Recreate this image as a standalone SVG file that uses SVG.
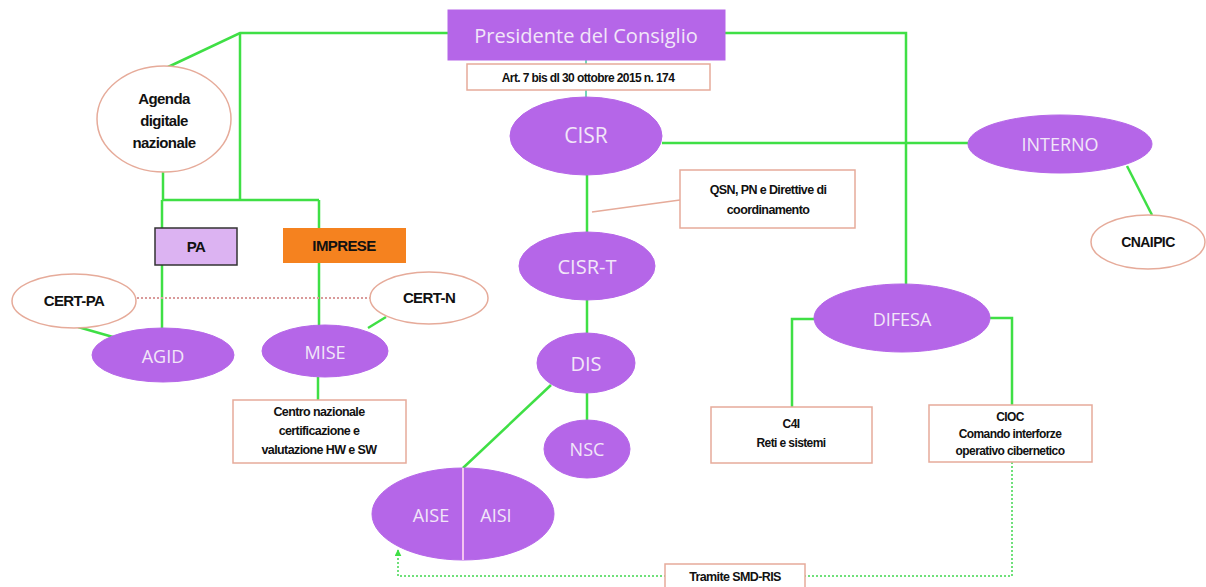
<svg xmlns="http://www.w3.org/2000/svg" width="1206" height="587" viewBox="0 0 1206 587">
<defs>
<style>
.g{stroke:#3fdf45;stroke-width:2.5;fill:none}
.thin{stroke:#45c8a0;stroke-width:1.5;fill:none}
.dot{stroke:#6fe07a;stroke-width:2;fill:none;stroke-dasharray:2 2}
.pur{fill:#b566e8;stroke:#b566e8;stroke-width:1}
.wht{fill:#ffffff;stroke:#e6ab9a;stroke-width:1.5}
.pl{font-family:"Open Sans","Liberation Sans",sans-serif;font-size:18px;fill:#f2e6f8;text-anchor:middle;dominant-baseline:central}
.bl{font-family:"Liberation Sans",sans-serif;font-weight:bold;fill:#111;text-anchor:middle;letter-spacing:-0.6px}
</style>
<marker id="arr" viewBox="0 0 10 10" refX="9" refY="5" markerWidth="3.5" markerHeight="3.5" orient="auto">
<path d="M0,0 L10,5 L0,10 z" fill="#3fdf45"/>
</marker>
</defs>
<rect width="1206" height="587" fill="#ffffff"/>

<g id="connectors">
<polyline class="g" points="448,33 240,33 168,67"/>
<line class="g" x1="240" y1="33" x2="240" y2="200"/>
<line class="g" x1="163" y1="172" x2="163" y2="200"/>
<line class="g" x1="162" y1="200" x2="319" y2="200"/>
<line class="g" x1="162" y1="200" x2="162" y2="329"/>
<line class="g" x1="319" y1="200" x2="319" y2="326"/>
<line x1="137" y1="298" x2="370" y2="298" stroke="#d99a9a" stroke-width="2" stroke-dasharray="2 2"/>
<line class="g" x1="78" y1="327" x2="113" y2="337"/>
<line class="g" x1="368" y1="328" x2="386" y2="317"/>
<line class="g" x1="318" y1="377" x2="318" y2="400"/>
<line class="thin" x1="586" y1="60" x2="586" y2="97"/>
<polyline class="g" points="725,33 906,33 906,285"/>
<line class="g" x1="662" y1="143" x2="968" y2="143"/>
<line class="g" x1="1127" y1="166" x2="1152" y2="215"/>
<line class="g" x1="587" y1="175" x2="587" y2="233"/>
<line x1="680" y1="200" x2="592" y2="212" stroke="#e6ab9a" stroke-width="1.5"/>
<line class="g" x1="587" y1="300" x2="587" y2="333"/>
<line class="g" x1="587" y1="393" x2="587" y2="420"/>
<line class="g" x1="551" y1="385" x2="463" y2="468"/>
<polyline class="g" points="815,319 792,319 792,407"/>
<polyline class="g" points="990,318 1012,318 1012,405"/>
<polyline class="dot" points="1012,462 1012,576 398,576 398,550" marker-end="url(#arr)"/>
</g>

<g id="presidente">
<rect x="448" y="10" width="277" height="50" class="pur"/>
<text x="586" y="35" class="pl" style="font-size:20px">Presidente del Consiglio</text>
</g>
<g id="art7">
<rect x="467" y="64" width="243" height="26" class="wht"/>
<text x="588" y="82" class="bl" font-size="12">Art. 7 bis dl 30 ottobre 2015 n. 174</text>
</g>
<g id="agenda">
<ellipse cx="164" cy="119" rx="67" ry="53" class="wht"/>
<text class="bl" font-size="15"><tspan x="164" y="104">Agenda</tspan><tspan x="164" y="126">digitale</tspan><tspan x="164" y="148">nazionale</tspan></text>
</g>
<g id="pa">
<rect x="155" y="228" width="82" height="37" fill="#dcb3f2" stroke="#333" stroke-width="1.5"/>
<text x="196" y="252" class="bl" font-size="15">PA</text>
</g>
<g id="imprese">
<rect x="283" y="228" width="123" height="35" fill="#f5821f"/>
<text x="344" y="251" class="bl" font-size="15">IMPRESE</text>
</g>
<g id="certpa">
<ellipse cx="74" cy="301" rx="62" ry="27" class="wht"/>
<text x="74" y="306" class="bl" font-size="15">CERT-PA</text>
</g>
<g id="certn">
<ellipse cx="429" cy="298" rx="59" ry="26" class="wht"/>
<text x="429" y="303" class="bl" font-size="15">CERT-N</text>
</g>
<g id="agid">
<ellipse cx="163" cy="355" rx="71" ry="27" class="pur"/>
<text x="163" y="356" class="pl">AGID</text>
</g>
<g id="mise">
<ellipse cx="325" cy="351" rx="63" ry="26" class="pur"/>
<text x="325" y="352" class="pl">MISE</text>
</g>
<g id="centro">
<rect x="233" y="400" width="173" height="63" class="wht"/>
<text class="bl" font-size="12.5"><tspan x="319" y="416">Centro nazionale</tspan><tspan x="319" y="435">certificazione e</tspan><tspan x="319" y="454">valutazione HW e SW</tspan></text>
</g>
<g id="cisr">
<ellipse cx="586" cy="136" rx="76" ry="39" class="pur"/>
<text x="586" y="135" class="pl" style="font-size:21px">CISR</text>
</g>
<g id="interno">
<ellipse cx="1060" cy="144" rx="92" ry="29" class="pur"/>
<text x="1060" y="144" class="pl">INTERNO</text>
</g>
<g id="cnaipic">
<ellipse cx="1148" cy="242" rx="57" ry="27" class="wht"/>
<text x="1148" y="247" class="bl" font-size="14">CNAIPIC</text>
</g>
<g id="qsn">
<rect x="680" y="170" width="175" height="58" class="wht"/>
<text class="bl" font-size="12.5"><tspan x="768" y="194">QSN, PN e Direttive di</tspan><tspan x="768" y="214">coordinamento</tspan></text>
</g>
<g id="cisrt">
<ellipse cx="587" cy="266" rx="68" ry="34" class="pur"/>
<text x="587" y="266" class="pl" style="font-size:20px">CISR-T</text>
</g>
<g id="dis">
<ellipse cx="586" cy="363" rx="49" ry="30" class="pur"/>
<text x="586" y="363" class="pl" style="font-size:20px">DIS</text>
</g>
<g id="nsc">
<ellipse cx="587" cy="449" rx="43" ry="29" class="pur"/>
<text x="587" y="449" class="pl">NSC</text>
</g>
<g id="aise-aisi">
<ellipse cx="463" cy="514" rx="91" ry="46" class="pur"/>
<line x1="463" y1="468" x2="463" y2="560" stroke="#f3c4f0" stroke-width="2"/>
<text x="431" y="515" class="pl">AISE</text>
<text x="496" y="515" class="pl">AISI</text>
</g>
<g id="difesa">
<ellipse cx="902" cy="318" rx="88" ry="34" class="pur"/>
<text x="902" y="319" class="pl">DIFESA</text>
</g>
<g id="c4i">
<rect x="711" y="407" width="161" height="56" class="wht"/>
<text class="bl" font-size="12"><tspan x="791" y="428">C4I</tspan><tspan x="791" y="447">Reti e sistemi</tspan></text>
</g>
<g id="cioc">
<rect x="929" y="405" width="163" height="57" class="wht"/>
<text class="bl" font-size="12"><tspan x="1010" y="421">CIOC</tspan><tspan x="1010" y="438">Comando interforze</tspan><tspan x="1010" y="455">operativo cibernetico</tspan></text>
</g>
<g id="tramite">
<rect x="665" y="564" width="140" height="24" class="wht"/>
<text x="735" y="581" class="bl" font-size="12.5">Tramite SMD-RIS</text>
</g>
</svg>
